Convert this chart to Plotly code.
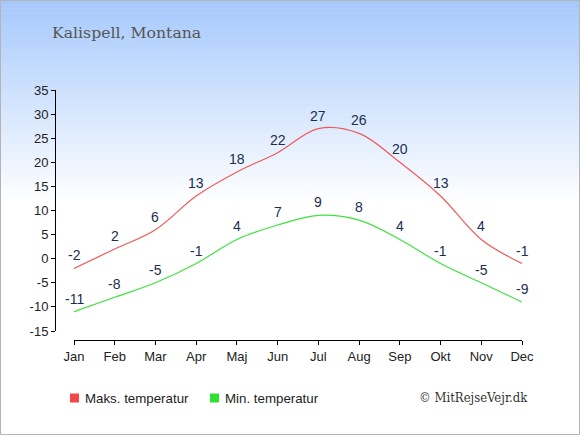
import plotly.graph_objects as go

months = ["Jan", "Feb", "Mar", "Apr", "Maj", "Jun", "Jul", "Aug", "Sep", "Okt", "Nov", "Dec"]
max_temp = [-2, 2, 6, 13, 18, 22, 27, 26, 20, 13, 4, -1]
min_temp = [-11, -8, -5, -1, 4, 7, 9, 8, 4, -1, -5, -9]
y_ticks = [-15, -10, -5, 0, 5, 10, 15, 20, 25, 30, 35]
legend_names = ["Maks. temperatur", "Min. temperatur"]

W, H = 580, 435
ML, MR, MT, MB = 55, 58, 90, 95
PW, PH = W - ML - MR, H - MT - MB

RED = "#f05a5a"
GREEN = "#3ee23e"
LABEL = "#1c2d52"
SANS = "Liberation Sans, Arial"


def px(x):
    return (x - ML) / PW


def py(y):
    return (H - MB - y) / PH


fig = go.Figure()

# background gradient: light blue at top fading to white
shapes = []
top = (166, 201, 252)
steps = 50
fade_end = 205
for i in range(steps):
    y0 = fade_end * i / steps
    y1 = fade_end * (i + 1) / steps + 0.5
    t = i / (steps - 1)
    c = tuple(round(a + (255 - a) * t) for a in top)
    shapes.append(dict(type="rect", xref="paper", yref="paper", layer="below",
                       x0=px(0), x1=px(W), y0=py(y1), y1=py(y0),
                       line_width=0, fillcolor=f"rgb{c}"))
shapes.append(dict(type="rect", xref="paper", yref="paper", layer="above",
                   x0=px(0.5), x1=px(W - 0.5), y0=py(H - 0.5), y1=py(0.5),
                   line=dict(color="#b4b4b4", width=1), fillcolor="rgba(0,0,0,0)"))

fig.add_trace(go.Scatter(x=months, y=max_temp, mode="lines", line=dict(color=RED, width=1.2, shape="spline"),
                         showlegend=False, hoverinfo="skip", cliponaxis=False))
fig.add_trace(go.Scatter(x=months, y=min_temp, mode="lines", line=dict(color=GREEN, width=1.2, shape="spline"),
                         showlegend=False, hoverinfo="skip", cliponaxis=False))

annotations = []
for series in (max_temp, min_temp):
    for m, v in zip(months, series):
        annotations.append(dict(x=m, y=v, text=str(v), showarrow=False, yshift=13,
                                font=dict(family=SANS, size=14, color=LABEL)))

annotations.append(dict(xref="paper", yref="paper", x=px(50), y=py(32), xanchor="left", yanchor="middle",
                        text="Kalispell, Montana", showarrow=False,
                        font=dict(family="DejaVu Serif", size=15.7, color="#555555")))
annotations.append(dict(xref="paper", yref="paper", x=px(530), y=py(397), xanchor="right", yanchor="middle",
                        text="© MitRejseVejr.dk", showarrow=False,
                        font=dict(family="DejaVu Serif Condensed, DejaVu Serif", size=13, color="#333333")))

# legend drawn by hand: small square swatch followed by its label
for name, colour, sx in zip(legend_names, ["#f04848", "#30e030"], [70, 210]):
    shapes.append(dict(type="rect", xref="paper", yref="paper", layer="above",
                       x0=px(sx), x1=px(sx + 9), y0=py(402.5), y1=py(393.5),
                       line_width=0, fillcolor=colour))
    annotations.append(dict(xref="paper", yref="paper", x=px(sx + 13), y=py(398), xanchor="left",
                            yanchor="middle", text=name, showarrow=False,
                            font=dict(family=SANS, size=13.3, color="#222222")))

fig.update_layout(
    width=W, height=H,
    margin=dict(l=ML, r=MR, t=MT, b=MB),
    paper_bgcolor="white", plot_bgcolor="rgba(0,0,0,0)",
    shapes=shapes, annotations=annotations,
    showlegend=False,
    xaxis=dict(domain=[px(74), 1], range=[0, 11], type="category", anchor="free", position=0,
               showline=True, linecolor="black", linewidth=1, showgrid=False, zeroline=False,
               ticks="outside", ticklen=4, tickcolor="black",
               tickfont=dict(family=SANS, size=13, color="#222222")),
    yaxis=dict(domain=[(H - MB - 331) / PH, 1], range=[-15, 35], anchor="free", position=0,
               tickvals=y_ticks, ticktext=[str(v) for v in y_ticks],
               showline=True, linecolor="black", linewidth=1,
               showgrid=False, zeroline=False, ticks="outside", ticklen=4, tickcolor="black",
               tickfont=dict(family=SANS, size=13, color="#222222")),
)

fig.write_html("out.html", config={"displayModeBar": False},
               post_script="document.body.style.margin='0';")
